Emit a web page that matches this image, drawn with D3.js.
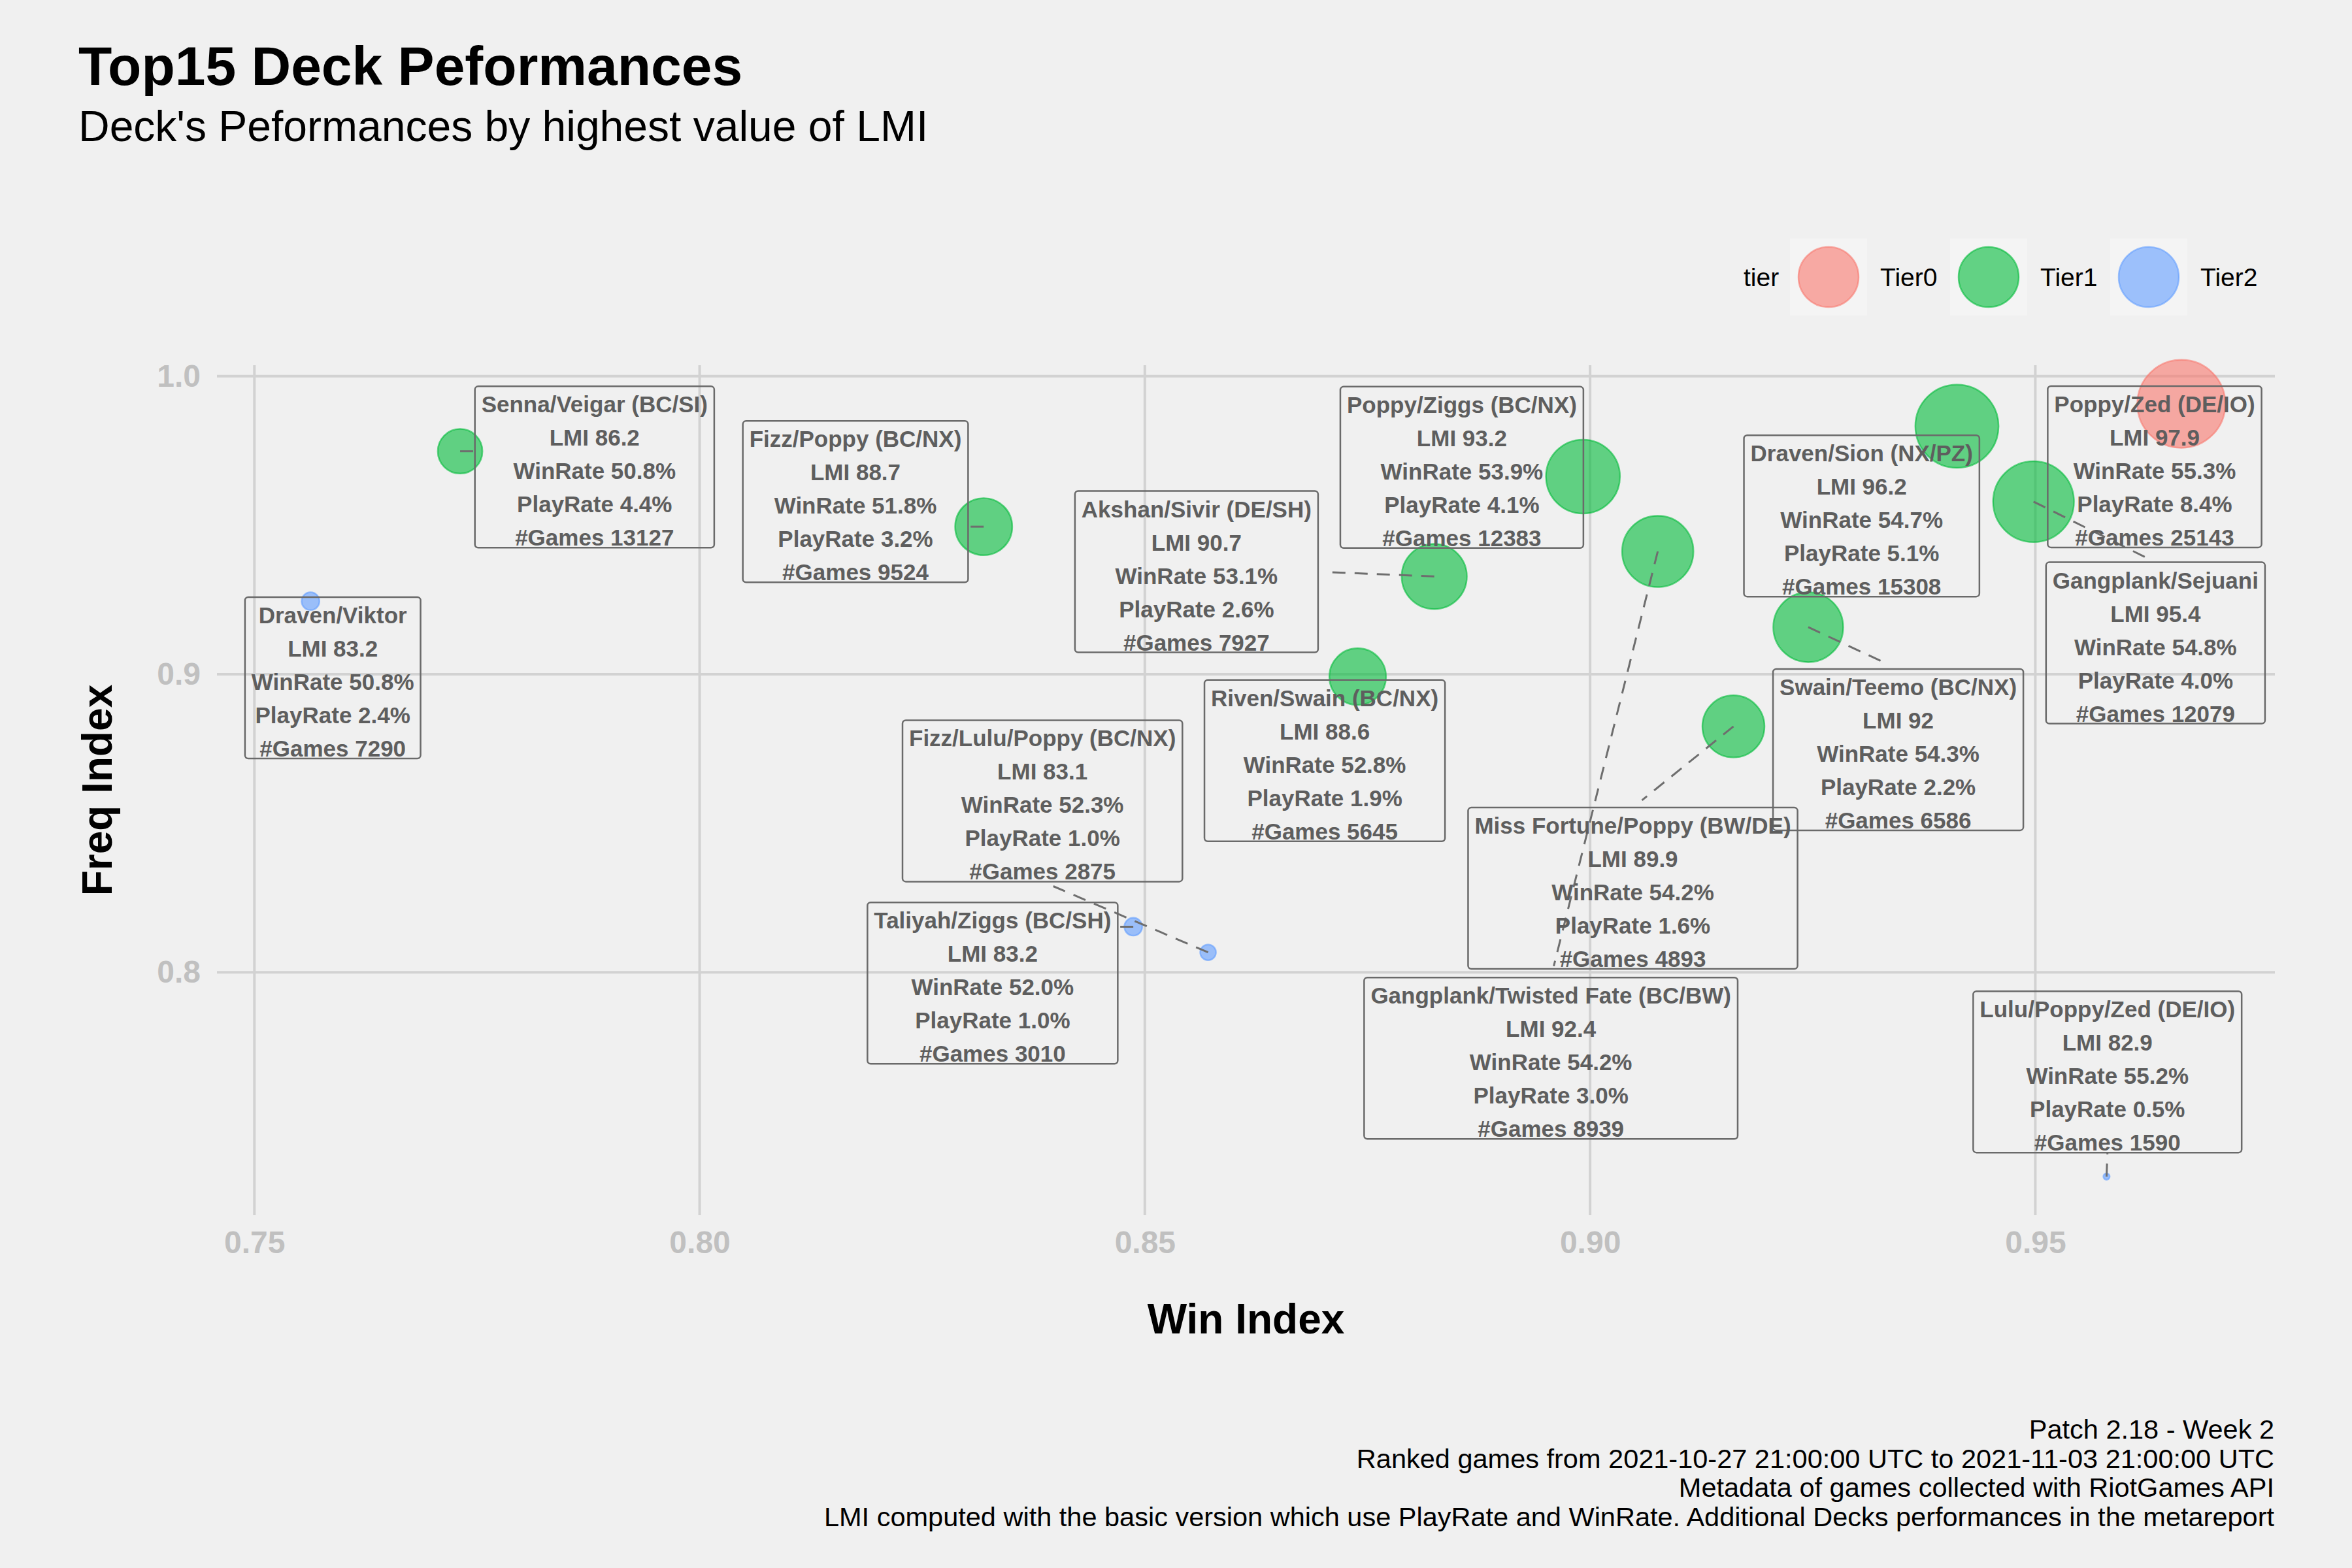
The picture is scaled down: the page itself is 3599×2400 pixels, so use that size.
<!DOCTYPE html>
<html>
<head>
<meta charset="utf-8">
<script src="https://cdn.jsdelivr.net/npm/d3@7"></script>
<style>
  body { margin: 0; background: #f0f0f0; }
  text { font-family: 'Liberation Sans', Arial, sans-serif; }
</style>
</head>
<body>
<svg id="chart"></svg>
<script>
const width = 3599
const height = 2400

// deck data
const decks = ['Poppy/Zed (DE/IO)', 'Draven/Sion (NX/PZ)', 'Gangplank/Sejuani', 'Poppy/Ziggs (BC/NX)',
    'Gangplank/Twisted Fate (BC/BW)', 'Swain/Teemo (BC/NX)', 'Akshan/Sivir (DE/SH)', 'Miss Fortune/Poppy (BW/DE)',
    'Fizz/Poppy (BC/NX)', 'Riven/Swain (BC/NX)', 'Senna/Veigar (BC/SI)', 'Draven/Viktor',
    'Taliyah/Ziggs (BC/SH)', 'Fizz/Lulu/Poppy (BC/NX)', 'Lulu/Poppy/Zed (DE/IO)']
const tiers = ['Tier0', 'Tier1', 'Tier1', 'Tier1', 'Tier1', 'Tier1', 'Tier1', 'Tier1',
    'Tier1', 'Tier1', 'Tier1', 'Tier2', 'Tier2', 'Tier2', 'Tier2']
const winIndex = [0.9664, 0.9412, 0.9498, 0.8992, 0.9076, 0.9245, 0.8825, 0.9161,
    0.8319, 0.8739, 0.7731, 0.7563, 0.8487, 0.8571, 0.9580]
const freqIndex = [0.9907, 0.9832, 0.9579, 0.9663, 0.9412, 0.9158, 0.9328, 0.8825,
    0.9495, 0.8992, 0.9748, 0.9245, 0.8153, 0.8067, 0.7315]
const lmi = [97.9, 96.2, 95.4, 93.2, 92.4, 92, 90.7, 89.9, 88.7, 88.6, 86.2, 83.2, 83.2, 83.1, 82.9]
const winRate = [55.3, 54.7, 54.8, 53.9, 54.2, 54.3, 53.1, 54.2, 51.8, 52.8, 50.8, 50.8, 52.0, 52.3, 55.2]
const playRate = [8.4, 5.1, 4.0, 4.1, 3.0, 2.2, 2.6, 1.6, 3.2, 1.9, 4.4, 2.4, 1.0, 1.0, 0.5]
const games = [25143, 15308, 12079, 12383, 8939, 6586, 7927, 4893, 9524, 5645, 13127, 7290, 3010, 2875, 1590]

// where the repelled labels ended up (data units)
const labelWin = [0.9634, 0.9305, 0.9635, 0.8856, 0.8956, 0.9346, 0.8558, 0.9048,
    0.8175, 0.8702, 0.7882, 0.7588, 0.8329, 0.8385, 0.9581]
const labelFreq = [0.9696, 0.9531, 0.9105, 0.9694, 0.7712, 0.8747, 0.9344, 0.8282,
    0.9579, 0.8710, 0.9695, 0.8988, 0.7964, 0.8575, 0.7666]

const tierNames = ['Tier0', 'Tier1', 'Tier2']
const tierColors = ['#F8766D', '#00BA38', '#619CFF']
const xTicks = [0.75, 0.80, 0.85, 0.90, 0.95]
const yTicks = [0.8, 0.9, 1.0]

const captionLines = ['Patch 2.18 - Week 2',
    'Ranked games from 2021-10-27 21:00:00 UTC to 2021-11-03 21:00:00 UTC',
    'Metadata of games collected with RiotGames API',
    'LMI computed with the basic version which use PlayRate and WinRate. Additional Decks performances in the metareport']

const data = decks.map((d, i) => ({
    deck: d, tier: tiers[i], win: winIndex[i], freq: freqIndex[i], lmi: lmi[i],
    wr: winRate[i], pr: playRate[i], games: games[i], lx: labelWin[i], ly: labelFreq[i]
}))

const panel = { left: 332, right: 3481, top: 559, bottom: 1860 }

// ggplot style 5% expansion
const expand = (lo, hi) => [lo - (hi - lo) * 0.05, hi + (hi - lo) * 0.05]
const x = d3.scaleLinear()
    .domain(expand(d3.min(winIndex), d3.max(winIndex)))
    .range([panel.left, panel.right])
const y = d3.scaleLinear()
    .domain(expand(d3.min(freqIndex), d3.max(freqIndex)))
    .range([panel.bottom, panel.top])

const lmiMin = d3.min(lmi), lmiMax = d3.max(lmi)
const size = d3.scaleSqrt().domain([0, lmiMax - lmiMin]).range([6, 68.5])
const color = d3.scaleOrdinal().domain(tierNames).range(tierColors)

const svg = d3.select('#chart')
    .attr('width', width)
    .attr('height', height)
    .style('background', '#f0f0f0')

svg.append('rect')
    .attr('width', width).attr('height', height).attr('fill', '#f0f0f0')

// titles
svg.append('text')
    .attr('x', 120).attr('y', 130)
    .attr('font-size', 84).attr('font-weight', 'bold').attr('fill', '#000')
    .text('Top15 Deck Peformances')
svg.append('text')
    .attr('x', 120).attr('y', 216)
    .attr('font-size', 66).attr('fill', '#000')
    .text("Deck's Peformances by highest value of LMI")

// grid
const grid = svg.append('g')
    .attr('stroke', '#d2d2d2')
    .attr('stroke-width', 4)
grid.selectAll('.vx')
    .data(xTicks)
    .join('line')
    .attr('x1', d => x(d)).attr('x2', d => x(d))
    .attr('y1', panel.top).attr('y2', panel.bottom)
grid.selectAll('.hy')
    .data(yTicks)
    .join('line')
    .attr('y1', d => y(d)).attr('y2', d => y(d))
    .attr('x1', panel.left).attr('x2', panel.right)

// axes (no domain line, tick labels only)
const xAxis = g => g
    .attr('transform', `translate(0, ${panel.bottom})`)
    .call(d3.axisBottom(x).tickValues(xTicks).tickFormat(d3.format('.2f')).tickSize(0).tickPadding(24))
    .call(g => g.select('.domain').remove())
const yAxis = g => g
    .attr('transform', `translate(${panel.left - 25},0)`)
    .call(d3.axisLeft(y).tickValues(yTicks).tickFormat(d3.format('.1f')).tickSize(0).tickPadding(0))
    .call(g => g.select('.domain').remove())

svg.append('g').call(xAxis)
svg.append('g').call(yAxis)
svg.selectAll('.tick text')
    .attr('font-family', "'Liberation Sans', Arial, sans-serif")
    .attr('font-size', 48)
    .attr('font-weight', 'bold')
    .attr('fill', '#c0c0c0')

svg.append('text')
    .attr('x', (panel.left + panel.right) / 2).attr('y', 2041)
    .attr('text-anchor', 'middle')
    .attr('font-size', 64).attr('font-weight', 'bold')
    .text('Win Index')
svg.append('text')
    .attr('transform', `translate(171, ${(panel.top + panel.bottom) / 2}) rotate(-90)`)
    .attr('text-anchor', 'middle')
    .attr('font-size', 64).attr('font-weight', 'bold')
    .text('Freq Index')

// points
svg.append('g')
    .selectAll('circle')
    .data(data)
    .join('circle')
    .attr('cx', d => x(d.win))
    .attr('cy', d => y(d.freq))
    .attr('r', d => size(d.lmi - lmiMin) - 1.2)
    .attr('fill', d => color(d.tier))
    .attr('fill-opacity', 0.6)
    .attr('stroke', d => color(d.tier))
    .attr('stroke-opacity', 0.6)
    .attr('stroke-width', 2.5)

// labels
const lineGap = 51
const boxH = 247
const labelLayer = svg.append('g')
const segLayer = labelLayer.append('g')

data.forEach(d => {
    const lines = [d.deck, 'LMI ' + d.lmi, 'WinRate ' + d.wr.toFixed(1) + '%',
        'PlayRate ' + d.pr.toFixed(1) + '%', '#Games ' + d.games]
    const cx = x(d.lx), cy = y(d.ly)
    const top = cy - boxH / 2
    const g = labelLayer.append('g')
    const txt = g.selectAll('text')
        .data(lines)
        .join('text')
        .attr('x', cx)
        .attr('y', (t, i) => top + 40 + i * lineGap)
        .attr('text-anchor', 'middle')
        .attr('font-size', 35)
        .attr('font-weight', 'bold')
        .attr('fill', '#5e5e5e')
        .text(t => t)
    let w = 0
    txt.each(function() { w = Math.max(w, this.getComputedTextLength()) })
    const bw = w + 20
    const b = { l: cx - bw / 2, r: cx + bw / 2, t: top, b: top + boxH }
    g.insert('rect', 'text')
        .attr('x', b.l).attr('y', b.t)
        .attr('width', bw).attr('height', boxH)
        .attr('rx', 5)
        .attr('fill', 'none')
        .attr('stroke', '#6a6a6a')
        .attr('stroke-width', 2.5)

    // segment from point to label box
    const px = x(d.win), py = y(d.freq)
    const dx = px < b.l ? b.l - px : (px > b.r ? px - b.r : 0)
    const dy = py < b.t ? b.t - py : (py > b.b ? py - b.b : 0)
    if (Math.hypot(dx, dy) < 15) return
    let ex, ey
    if (dy === 0 && dx < 30) { ex = px < b.l ? b.l : b.r; ey = py }
    else if (dx === 0 && dy < 30) { ex = px; ey = py < b.t ? b.t : b.b }
    else if (dy >= dx) { ex = cx; ey = py < b.t ? b.t : b.b }
    else { ex = px < b.l ? b.l : b.r; ey = cy }
    let len = Math.hypot(ex - px, ey - py)
    if (len > 60) {
        ex = px + (ex - px) * (len - 18) / len
        ey = py + (ey - py) * (len - 18) / len
    }
    segLayer.append('line')
        .attr('x1', px).attr('y1', py)
        .attr('x2', ex).attr('y2', ey)
        .attr('stroke', '#6e6e6e')
        .attr('stroke-width', 3)
        .attr('stroke-dasharray', '20,14')
})

// legend
const legend = svg.append('g')
legend.append('text')
    .attr('x', 2668).attr('y', 438)
    .attr('font-size', 39)
    .text('tier')
const keys = legend.selectAll('.key')
    .data(tierNames)
    .join('g')
    .attr('transform', (d, i) => `translate(${2798 + i * 245}, 424)`)
keys.append('rect')
    .attr('x', -59).attr('y', -59)
    .attr('width', 118).attr('height', 118)
    .attr('fill', '#f4f4f4')
keys.append('circle')
    .attr('r', 46)
    .attr('fill', d => color(d)).attr('fill-opacity', 0.6)
    .attr('stroke', d => color(d)).attr('stroke-opacity', 0.6)
    .attr('stroke-width', 2.5)
keys.append('text')
    .attr('x', 79).attr('y', 14)
    .attr('font-size', 39)
    .text(d => d)

// caption
svg.append('g')
    .selectAll('text')
    .data(captionLines)
    .join('text')
    .attr('x', 3480)
    .attr('y', (d, i) => 2202 + i * 44.5)
    .attr('text-anchor', 'end')
    .attr('font-size', 41.5)
    .text(d => d)
</script>
</body>
</html>
